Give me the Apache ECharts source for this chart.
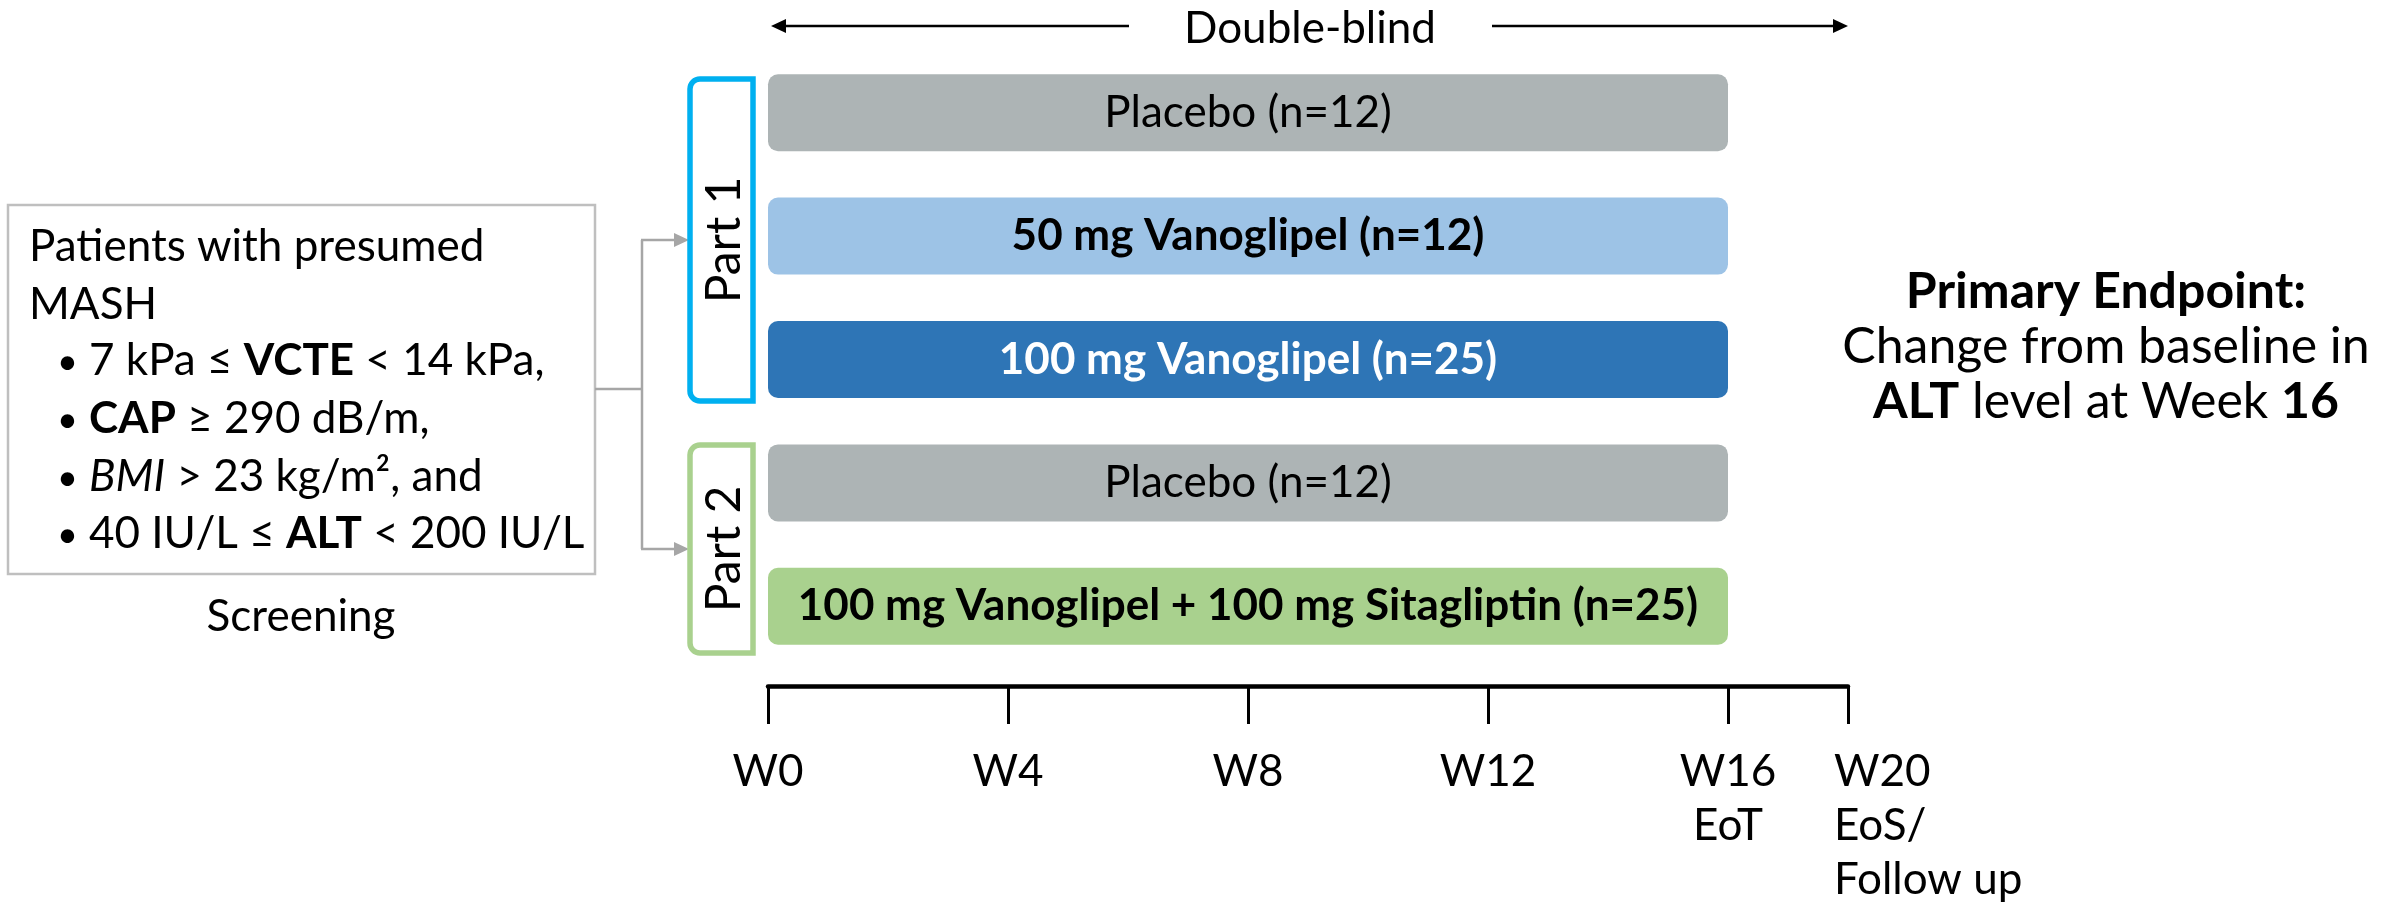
<!DOCTYPE html>
<html>
<head>
<meta charset="utf-8">
<script src="https://cdn.jsdelivr.net/npm/echarts@6/dist/echarts.min.js"></script>
<style>
  html, body { margin: 0; padding: 0; background: #fff; }
  #chart { width: 2395px; height: 907px; }
</style>
</head>
<body>
<div id="chart"></div>
<script>
// treatment arms, top to bottom
const armIds = ['p1-placebo', 'p1-50', 'p1-100', 'p2-placebo', 'p2-combo']
const armLabels = [
  'Placebo (n=12)',
  '50 mg Vanoglipel (n=12)',
  '100 mg Vanoglipel (n=25)',
  'Placebo (n=12)',
  '100 mg Vanoglipel + 100 mg Sitagliptin (n=25)'
]
const armEndWeek = [16, 16, 16, 16, 16]
const armColors = ['#adb4b5', '#9dc3e6', '#2e75b6', '#adb4b5', '#a9d18e']
const armTextColors = ['#000', '#000', '#fff', '#000', '#000']
const armBold = [false, true, true, false, true]

// timeline ticks (W20 sits closer to W16 on the drawing)
const tickPositions = [0, 4, 8, 12, 16, 18]
const tickLabels = ['W0', 'W4', 'W8', 'W12', 'W16\nEoT', 'W20\nEoS/\nFollow up']

const FONT = 'Lato'
const chart = echarts.init(document.getElementById('chart'))

const tri = (pts) => ({ type: 'polygon', shape: { points: pts }, style: { fill: '#000' } })
const line = (x1, y1, x2, y2, color, w) => ({
  type: 'line', shape: { x1, y1, x2, y2 }, style: { stroke: color, lineWidth: w }
})

const richBox = {
  b: { fontFamily: FONT, fontSize: 44, fontWeight: 'bold', color: '#000' },
  i: { fontFamily: FONT, fontSize: 44, fontStyle: 'italic', color: '#000' }
}
const boxText = (x, y, text, size) => ({
  type: 'text', x, y,
  style: {
    text, rich: richBox, fontFamily: FONT, fontSize: size || 44, fill: '#000',
    align: 'left', verticalAlign: 'middle'
  }
})
const bulletLines = [
  '7 kPa ≤ {b|VCTE} < 14 kPa,',
  '{b|CAP} ≥ 290 dB/m,',
  '{i|BMI} > 23 kg/m², and',
  '40 IU/L ≤ {b|ALT} < 200 IU/L'
]
const bulletY = [361, 419, 477, 534]

const graphics = [
  // double-blind arrow
  line(784, 26, 1129, 26, '#000', 2.5),
  tri([[771, 26], [786, 19], [786, 33]]),
  line(1492, 26, 1835, 26, '#000', 2.5),
  tri([[1848, 26], [1833, 19], [1833, 33]]),
  { type: 'text', x: 1310, y: 29, style: { text: 'Double-blind', fontFamily: FONT, fontSize: 44, fill: '#000', align: 'center', verticalAlign: 'middle' } },

  // screening box
  { type: 'rect', shape: { x: 8, y: 205, width: 587, height: 369 }, style: { fill: '#fff', stroke: '#bfbfbf', lineWidth: 2.5 } },
  boxText(29, 247, 'Patients with presumed'),
  boxText(29, 305, 'MASH'),
  ...bulletLines.map((t, i) => boxText(57, bulletY[i] + 1, '•', 36)),
  ...bulletLines.map((t, i) => boxText(89, bulletY[i], t)),
  { type: 'text', x: 301, y: 617, style: { text: 'Screening', fontFamily: FONT, fontSize: 44, fill: '#000', align: 'center', verticalAlign: 'middle' } },

  // connectors
  line(595, 389, 642, 389, '#a6a6a6', 2.5),
  line(642, 240, 642, 549, '#a6a6a6', 2.5),
  line(641, 240, 676, 240, '#a6a6a6', 2.5),
  line(641, 549, 676, 549, '#a6a6a6', 2.5),
  { type: 'polygon', shape: { points: [[689, 240], [674, 233], [674, 247]] }, style: { fill: '#a6a6a6' } },
  { type: 'polygon', shape: { points: [[689, 549], [674, 542], [674, 556]] }, style: { fill: '#a6a6a6' } },

  // part brackets
  { type: 'rect', shape: { x: 690, y: 79, width: 63, height: 322, r: [10, 0, 0, 10] }, style: { fill: '#fff', stroke: '#00b0f0', lineWidth: 5.5 } },
  { type: 'text', x: 725, y: 240, rotation: Math.PI / 2, style: { text: 'Part 1', fontFamily: FONT, fontSize: 48, fill: '#000', align: 'center', verticalAlign: 'middle' } },
  { type: 'rect', shape: { x: 690, y: 445, width: 63, height: 208, r: [10, 0, 0, 10] }, style: { fill: '#fff', stroke: '#a9d18e', lineWidth: 5.5 } },
  { type: 'text', x: 725, y: 549, rotation: Math.PI / 2, style: { text: 'Part 2', fontFamily: FONT, fontSize: 48, fill: '#000', align: 'center', verticalAlign: 'middle' } },

  // primary endpoint
  {
    type: 'text', x: 2106, y: 347,
    style: {
      text: '{b|Primary Endpoint:}\nChange from baseline in\n{b|ALT} level at Week {b|16}',
      rich: { b: { fontFamily: FONT, fontSize: 50, fontWeight: 'bold', color: '#000', lineHeight: 55 } },
      fontFamily: FONT, fontSize: 50, lineHeight: 55, fill: '#000',
      align: 'center', verticalAlign: 'middle'
    }
  }
]

const option = {
  animation: false,
  backgroundColor: '#fff',
  grid: { left: 768, right: 547, top: 51, bottom: 234 },
  xAxis: {
    type: 'value',
    min: 0,
    max: 18,
    interval: 4,
    position: 'bottom',
    offset: 18,
    splitLine: { show: false },
    axisLine: { show: true, lineStyle: { color: '#000', width: 4.5 } },
    axisTick: { show: true, length: 38, lineStyle: { color: '#000', width: 3 } },
    axisLabel: {
      color: '#000',
      fontFamily: FONT,
      fontSize: 44,
      lineHeight: 54,
      margin: 59,
      formatter: (v) => {
        const i = tickPositions.indexOf(v)
        if (i < 0) return ''
        // last label is left-aligned, starting just before its tick
        if (i === tickPositions.length - 1) {
          return tickLabels[i].split('\n').map(s => '{f|' + s + '}').join('\n')
        }
        return tickLabels[i]
      },
      rich: {
        f: { width: 28, align: 'left', fontFamily: FONT, fontSize: 44, lineHeight: 54, color: '#000' }
      }
    }
  },
  yAxis: {
    type: 'category',
    data: armIds,
    inverse: true,
    show: false
  },
  series: [
    {
      type: 'bar',
      barWidth: 77,
      data: armEndWeek.map((v, i) => ({
        value: v,
        itemStyle: { color: armColors[i], borderRadius: 10 },
        label: { color: armTextColors[i], fontWeight: armBold[i] ? 'bold' : 'normal' }
      })),
      label: {
        show: true,
        position: 'inside',
        fontFamily: FONT,
        fontSize: 44,
        formatter: (p) => armLabels[p.dataIndex]
      }
    }
  ],
  graphic: graphics
}

chart.setOption(option)
</script>
</body>
</html>
